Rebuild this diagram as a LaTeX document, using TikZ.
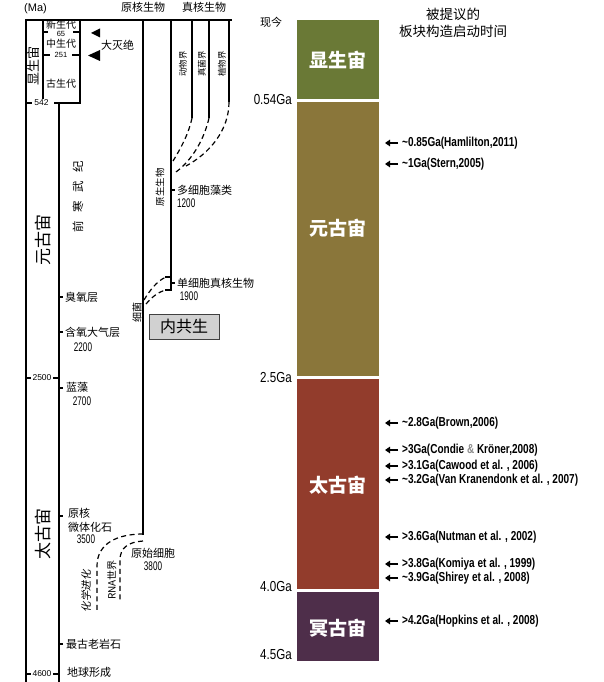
\documentclass[tikz,border=0pt]{standalone}
\usepackage{fontspec}
\setmainfont{Noto Sans CJK SC}
\newfontfamily\slantcjk[FakeSlant=0.2]{Noto Sans CJK SC}
\newfontfamily\reffont[FakeStretch=0.77]{Liberation Sans}
\newfontfamily\numfont[FakeStretch=0.65]{Liberation Sans}
\newfontfamily\gafont[FakeStretch=0.8]{Liberation Sans}
\newfontfamily\axfont{Liberation Sans}
\usetikzlibrary{arrows.meta}
\newcommand\fsz[1]{\fontsize{#1}{#1}\selectfont}
\definecolor{phan}{RGB}{106,121,54}
\definecolor{prot}{RGB}{138,118,58}
\definecolor{arch}{RGB}{146,60,44}
\definecolor{hade}{RGB}{78,46,74}
\begin{document}
\begin{tikzpicture}[x=1pt,y=-1pt,
  axis/.style={line width=1.6pt},
  dashline/.style={line width=1.2pt, dash pattern=on 5pt off 3.5pt},
  lab/.style={inner sep=0pt, font=\fsz{11}},
  smalllab/.style={inner sep=0pt, font=\fsz{10}},
  vlab/.style={inner sep=0pt, rotate=90},
  num/.style={inner sep=0pt, font=\numfont\fsz{12.5}},
  axnum/.style={inner sep=0pt, font=\axfont\fsz{8.5}},
  galab/.style={inner sep=0pt, anchor=east, font=\gafont\fsz{14.5}},
  eonlab/.style={inner sep=0pt, text=white, font=\fsz{19}\bfseries},
  ref/.style={inner sep=0pt, anchor=west, font=\reffont\bfseries\fsz{13}},
  refarr/.style={line width=1.7pt, -{Triangle[length=5pt,width=6.5pt]}},
  tickline/.style={line width=1.2pt}]
\useasboundingbox (0,0) rectangle (604,682);

% ---------------- left panel ----------------
\node[lab, anchor=west] (ma) at (24,9) {\axfont(Ma)};
\node[lab] (prok) at (143,7) {原核生物};
\node[lab] (euk) at (204,7) {真核生物};

\draw[line width=2pt] (25,20) -- (232,20);
\draw[axis] (26,20) -- (26,682);
\draw[axis] (43,20) -- (43,99);
\draw[axis] (80,20) -- (80,103) -- (54,103);
\draw[axis] (59,103) -- (59,682);
\draw[axis] (143,20) -- (143,535);
\draw[axis] (171,20) -- (171,290) -- (165,290);
\draw[axis] (171,277) -- (165,277);
\draw[axis] (192,20) -- (192,118);
\draw[axis] (209,20) -- (209,118);
\draw[axis] (229,20) -- (229,102);

% era box
\node[smalllab] (ceno) at (61,25) {新生代};
\node[inner sep=0pt, font=\axfont\fsz{7.5}] (n65) at (61,34) {65};
\draw[tickline] (43,32) -- (48,32) (73,32) -- (80,32);
\node[smalllab] (meso) at (61,44) {中生代};
\node[inner sep=0pt, font=\axfont\fsz{7.5}] (n251) at (61,55) {251};
\draw[tickline] (43,55) -- (50,55) (72,55) -- (80,55);
\node[smalllab] (paleo) at (61,84) {古生代};
\node[vlab, font=\fsz{13}] (phaneon) at (34,66) {显生宙};

% mass extinction
\fill (91,33) -- (100,28.5) -- (100,37.5) -- cycle;
\fill (88,55.5) -- (100,50) -- (100,61) -- cycle;
\node[lab, anchor=west] (extinct) at (101,45) {大灭绝};

% axis numbers
\draw[tickline] (26,103) -- (32,103);
\node[axnum] (n542) at (41.5,103) {542};
\draw[tickline] (26,378) -- (31,378) (53,378) -- (59,378);
\node[axnum] (n2500) at (42,378) {2500};
\draw[tickline] (26,674) -- (31,674) (53,674) -- (59,674);
\node[axnum] (n4600) at (42,674) {4600};

\node[vlab, font=\fsz{17}] (proteon) at (43,240) {元古宙};
\node[vlab, font=\fsz{17}] (archeon) at (43,534) {太古宙};
\node[vlab, font=\fsz{11.5}] (precam) at (78,197) {前\hspace{8.5pt}寒\hspace{8.5pt}武\hspace{8.5pt}纪};

% events on precambrian line
\draw[tickline] (59,297) -- (63,297);
\node[lab, anchor=west] (ozone) at (65,297) {臭氧层};
\draw[tickline] (59,332) -- (63,332);
\node[lab, anchor=west] (oxy) at (65,332) {含氧大气层};
\node[num] (n2200) at (83,347) {2200};
\draw[tickline] (59,388) -- (63,388);
\node[lab, anchor=west] (cyano) at (66,387) {蓝藻};
\node[num] (n2700) at (82,401) {2700};
\draw[tickline] (59,516) -- (63,516);
\node[lab, anchor=west] (prokf) at (68,513) {原核};
\node[lab, anchor=west] (micro) at (68,527) {微体化石};
\node[num] (n3500) at (86,539) {3500};
\draw[tickline] (59,644) -- (63,644);
\node[lab, anchor=west] (rock) at (66,644) {最古老岩石};
\node[lab, anchor=west] (earth) at (67,672) {地球形成};

% origin of life
\draw[dashline] (143,534) .. controls (118,534) and (97,543) .. (97,566) -- (97,612);
\draw[dashline] (143,541) .. controls (128,542) and (120,548) .. (120,560) -- (120,600);
\node[vlab, font=\slantcjk\fsz{10.5}] (chem) at (86,591) {化学进化};
\node[vlab, font=\fsz{10}] (rna) at (112,580) {RNA世界};
\node[lab] (proto) at (153,553) {原始细胞};
\node[num] (n3800) at (153,566) {3800};

% bacteria / eukaryote split
\node[vlab, font=\fsz{10}] (bact) at (137,312) {细菌};
\draw[dashline] (144,300) .. controls (150,290) and (157,281) .. (166,277);
\draw[dashline] (146,304) .. controls (152,297) and (158,292) .. (166,290);
\draw[tickline] (171,283) -- (175,283);
\node[lab, anchor=west] (unicell) at (177,283) {单细胞真核生物};
\node[num] (n1900) at (189,296) {1900};

\node[draw=black!75, line width=1pt, fill=black!18, minimum width=70pt, minimum height=25pt, inner sep=0pt, font=\fsz{16}] (endo) at (184,326.5) {内共生};

\node[vlab, font=\fsz{9.5}] (protist) at (160,187) {原生生物};
\draw[tickline] (171,190) -- (175,190);
\node[lab, anchor=west] (multi) at (177,190) {多细胞藻类};
\node[num, anchor=west] (n1200) at (177,203) {1200};

% kingdoms
\node[vlab, font=\fsz{8.5}] (animal) at (183,64) {动物界};
\node[vlab, font=\fsz{8.5}] (fungi) at (202,64) {真菌界};
\node[vlab, font=\fsz{8.5}] (plant) at (222,64) {植物界};
\draw[dashline] (192,118) .. controls (189,133) and (181,148) .. (173,161);
\draw[dashline] (209,118) .. controls (204,140) and (192,160) .. (176,172);
\draw[dashline] (229,102) .. controls (229,130) and (210,153) .. (186,166);

% ---------------- right panel ----------------
\node[lab] (now) at (271,22) {现今};
\node[inner sep=0pt, font=\fsz{13.5}, align=center] (title) at (453,23) {被提议的\\[4pt]板块构造启动时间};

\fill[phan] (297,20) rectangle (379,99);
\fill[prot] (297,102) rectangle (379,376);
\fill[arch] (297,379) rectangle (379,589);
\fill[hade] (297,592) rectangle (379,661);
\node[eonlab] (e1) at (338,60) {显生宙};
\node[eonlab] (e2) at (338,228) {元古宙};
\node[eonlab] (e3) at (338,485) {太古宙};
\node[eonlab] (e4) at (338,628) {冥古宙};

\node[galab] (g1) at (292,100) {0.54Ga};
\node[galab] (g2) at (292,378) {2.5Ga};
\node[galab] (g3) at (292,587) {4.0Ga};
\node[galab] (g4) at (292,655) {4.5Ga};

\node[ref] (r1) at (402,143) {\textasciitilde0.85Ga(Hamlilton,2011)};
\node[ref] (r2) at (402,164) {\textasciitilde1Ga(Stern,2005)};
\node[ref] (r3) at (402,423) {\textasciitilde2.8Ga(Brown,2006)};
\node[ref] (r4) at (402,450) {>3Ga(Condie {\color{black!45}\&} Kröner,2008)};
\node[ref] (r5) at (402,466) {>3.1Ga(Cawood et al. , 2006)};
\node[ref] (r6) at (402,480) {\textasciitilde3.2Ga(Van Kranendonk et al. , 2007)};
\node[ref] (r7) at (402,537) {>3.6Ga(Nutman et al. , 2002)};
\node[ref] (r8) at (402,564) {>3.8Ga(Komiya et al. , 1999)};
\node[ref] (r9) at (402,578) {\textasciitilde3.9Ga(Shirey et al. , 2008)};
\node[ref] (r10) at (402,621) {>4.2Ga(Hopkins et al. , 2008)};
\foreach \i/\yy in {1/143,2/164,3/423,4/450,5/466,6/480,7/537,8/564,9/578,10/621}{
  \coordinate (a\i) at (385,\yy);
  \draw[refarr] ([xshift=-4pt]r\i.west) -- (a\i);
}
\end{tikzpicture}
\end{document}
